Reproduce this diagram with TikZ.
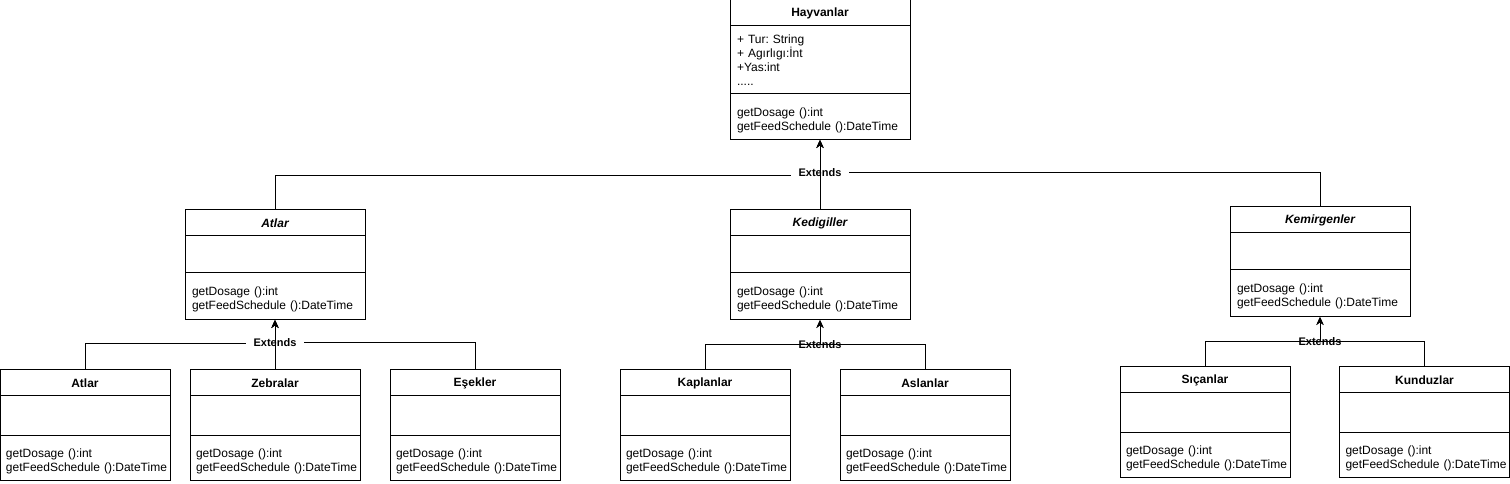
\documentclass[tikz,border=0pt]{standalone}
\usepackage{fontspec}
\setmainfont{Liberation Sans}
\usepackage{tikz}
\usetikzlibrary{arrows.meta,positioning}

\begin{document}
\begin{tikzpicture}[
    x=0.75pt, y=-0.75pt, line width=0.75pt,
    header/.style={rectangle, draw=black, fill=white, minimum height=19.5pt, inner sep=0pt, outer sep=0pt, align=center, font=\fontsize{9}{10.5}\selectfont\bfseries},
    abstract/.style={header, font=\fontsize{9}{10.5}\selectfont\bfseries\itshape},
    body/.style={rectangle, draw=black, fill=white, align=left, inner xsep=5.25pt, inner ysep=0pt, outer sep=0pt, font=\fontsize{9}{10.5}\selectfont\frenchspacing},
    ops/.style={body, text depth=8pt},
    wide/.style={minimum width=135pt, text width=124.5pt},
    narrow/.style={minimum width=127.5pt, text width=118.5pt, inner xsep=4.5pt},
    arrow/.style={-{Stealth[length=6pt, width=5.5pt]}},
    extlabel/.style={font=\fontsize{8.25}{10}\selectfont\bfseries, inner xsep=6pt, inner ysep=1pt}
]
\useasboundingbox (0,0) rectangle (1510,484);

% Base class
\node[header, wide, anchor=north] (hayvanlar) at (820,0) {Hayvanlar};
\node[body, wide, below=0pt of hayvanlar, minimum height=51pt] (hayvanlar_attr) {+ Tur: String\\+ Agırlıgı:İnt\\+Yas:int\\.....};
\node[ops, wide, below=0pt of hayvanlar_attr, minimum height=34.5pt] (hayvanlar_ops) {getDosage ():int\\getFeedSchedule ():DateTime};

% Abstract classes
\node[abstract, wide, anchor=north] (atlar_base) at (275,210) {Atlar};
\node[body, wide, below=0pt of atlar_base, minimum height=27.75pt] (atlar_base_attr) {};
\node[ops, wide, below=0pt of atlar_base_attr, minimum height=35.25pt] (atlar_base_ops) {getDosage ():int\\getFeedSchedule ():DateTime};

\node[abstract, wide, anchor=north] (kedigiller) at (820,210) {Kedigiller};
\node[body, wide, below=0pt of kedigiller, minimum height=27.75pt] (kedigiller_attr) {};
\node[ops, wide, below=0pt of kedigiller_attr, minimum height=35.25pt] (kedigiller_ops) {getDosage ():int\\getFeedSchedule ():DateTime};

\node[abstract, wide, anchor=north] (kemirgenler) at (1320,207) {Kemirgenler};
\node[body, wide, below=0pt of kemirgenler, minimum height=27.75pt] (kemirgenler_attr) {};
\node[ops, wide, below=0pt of kemirgenler_attr, minimum height=35.25pt] (kemirgenler_ops) {getDosage ():int\\getFeedSchedule ():DateTime};

% Concrete classes
\node[header, narrow, anchor=north] (atlar) at (85,370) {Atlar};
\node[body, narrow, below=0pt of atlar, minimum height=30pt] (atlar_attr) {};
\node[ops, narrow, below=0pt of atlar_attr, minimum height=33pt] (atlar_ops) {getDosage ():int\\\mbox{getFeedSchedule ():DateTime}};

\node[header, narrow, anchor=north] (zebralar) at (275,370) {Zebralar};
\node[body, narrow, below=0pt of zebralar, minimum height=30pt] (zebralar_attr) {};
\node[ops, narrow, below=0pt of zebralar_attr, minimum height=33pt] (zebralar_ops) {getDosage ():int\\\mbox{getFeedSchedule ():DateTime}};

\node[header, narrow, anchor=north] (esekler) at (475,370) {Eşekler};
\node[body, narrow, below=0pt of esekler, minimum height=30pt] (esekler_attr) {};
\node[ops, narrow, below=0pt of esekler_attr, minimum height=33pt] (esekler_ops) {getDosage ():int\\\mbox{getFeedSchedule ():DateTime}};

\node[header, narrow, anchor=north] (kaplanlar) at (705,370) {Kaplanlar};
\node[body, narrow, below=0pt of kaplanlar, minimum height=30pt] (kaplanlar_attr) {};
\node[ops, narrow, below=0pt of kaplanlar_attr, minimum height=33pt] (kaplanlar_ops) {getDosage ():int\\\mbox{getFeedSchedule ():DateTime}};

\node[header, narrow, anchor=north] (aslanlar) at (925,370) {Aslanlar};
\node[body, narrow, below=0pt of aslanlar, minimum height=30pt] (aslanlar_attr) {};
\node[ops, narrow, below=0pt of aslanlar_attr, minimum height=33pt] (aslanlar_ops) {getDosage ():int\\\mbox{getFeedSchedule ():DateTime}};

\node[header, narrow, anchor=north] (sicanlar) at (1205,367) {Sıçanlar};
\node[body, narrow, below=0pt of sicanlar, minimum height=30pt] (sicanlar_attr) {};
\node[ops, narrow, below=0pt of sicanlar_attr, minimum height=33pt] (sicanlar_ops) {getDosage ():int\\\mbox{getFeedSchedule ():DateTime}};

\node[header, narrow, anchor=north] (kunduzlar) at (1424.5,367) {Kunduzlar};
\node[body, narrow, below=0pt of kunduzlar, minimum height=30pt] (kunduzlar_attr) {};
\node[ops, narrow, below=0pt of kunduzlar_attr, minimum height=33pt] (kunduzlar_ops) {getDosage ():int\\\mbox{getFeedSchedule ():DateTime}};

% Inheritance to Hayvanlar
\draw[arrow] (atlar_base.north) -- ++(0,-34) -| (hayvanlar_ops.south);
\draw[arrow] (kemirgenler.north) -- ++(0,-34) -| node[extlabel, fill=white] {Extends} (hayvanlar_ops.south);
\draw[arrow] (kedigiller.north) -- (hayvanlar_ops.south);

% Inheritance to Atlar
\draw[arrow] (atlar.north) -- ++(0,-26) -| (atlar_base_ops.south);
\draw[arrow] (esekler.north) -- ++(0,-27) -| node[extlabel, fill=white] {Extends} (atlar_base_ops.south);
\draw[arrow] (zebralar.north) -- (atlar_base_ops.south);

% Inheritance to Kedigiller
\draw[arrow] (kaplanlar.north) -- ++(0,-25) -| (kedigiller_ops.south);
\draw[arrow] (aslanlar.north) -- ++(0,-25) -| node[extlabel] {Extends} (kedigiller_ops.south);

% Inheritance to Kemirgenler
\draw[arrow] (sicanlar.north) -- ++(0,-25) -| (kemirgenler_ops.south);
\draw[arrow] (kunduzlar.north) -- ++(0,-25) -| node[extlabel] {Extends} (kemirgenler_ops.south);

\end{tikzpicture}
\end{document}
